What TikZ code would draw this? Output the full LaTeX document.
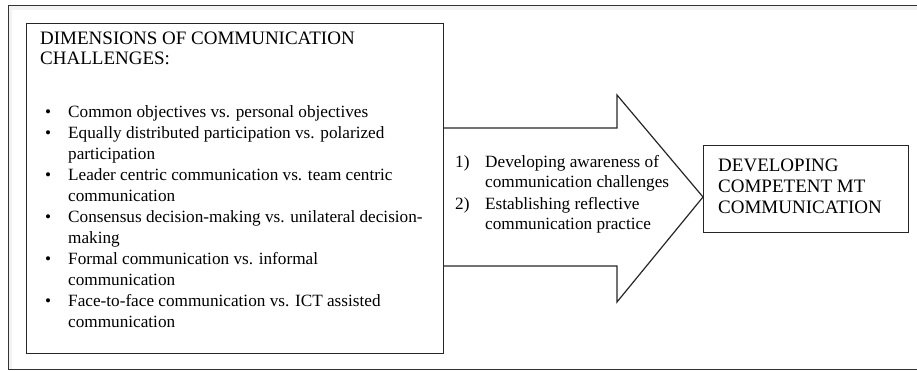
\documentclass[tikz,border=0pt]{standalone}
\usepackage{fontspec}
\setmainfont{Liberation Serif}
\begin{document}
\begin{tikzpicture}[x=1pt,y=-1pt,
  frameline/.style={draw=black!80,line width=1.3pt},
  boxline/.style={draw=black!85,line width=1.2pt},
  txt/.style={anchor=base west,inner sep=0pt,font=\fontsize{17.2}{21}\selectfont},
  captxt/.style={anchor=base west,inner sep=0pt,font=\fontsize{19}{21}\selectfont},
]
\useasboundingbox (0,0) rectangle (917,371);
% outer frame (right side cut off)
\fill[black!5] (9,6) rectangle (917,10);
\fill[black!5] (9,6) rectangle (12,369);
\draw[frameline] (917,5.5) -- (8.5,5.5) -- (8.5,369.5) -- (917,369.5);
% left box
\node[boxline,draw,minimum width=417pt,minimum height=330pt,anchor=north west,inner sep=0pt] (dims) at (26,23) {};
\node[captxt] (title) at (40,45) {\parbox[t]{400pt}{\raggedright\baselineskip=20pt DIMENSIONS OF COMMUNICATION\\CHALLENGES:}};
\node[txt] (list) at (45,118) {\parbox[t]{395pt}{\raggedright
\makebox[23pt][l]{•}Common objectives vs. personal objectives\\
\makebox[23pt][l]{•}Equally distributed participation vs. polarized\\
\hspace*{23pt}participation\\
\makebox[23pt][l]{•}Leader centric communication vs. team centric\\
\hspace*{23pt}communication\\
\makebox[23pt][l]{•}Consensus decision-making vs. unilateral decision-\\
\hspace*{23pt}making\\
\makebox[23pt][l]{•}Formal communication vs. informal\\
\hspace*{23pt}communication\\
\makebox[23pt][l]{•}Face-to-face communication vs. ICT assisted\\
\hspace*{23pt}communication}};
% block arrow
\coordinate (a1) at (dims.east |- 0,128);
\coordinate (a2) at (dims.east |- 0,266);
\draw[boxline,line join=miter] (a1) -- (617,128) -- (617,95) -- (703,197) -- (617,302) -- (617,266) -- (a2);
\node[txt] (steps) at (455,168) {\parbox[t]{250pt}{\raggedright\baselineskip=20pt
\makebox[30pt][l]{1)}Developing awareness of\\
\hspace*{30pt}communication challenges\\[2pt]
\makebox[30pt][l]{2)}Establishing reflective\\
\hspace*{30pt}communication practice}};
% result box
\node[boxline,draw,minimum width=205pt,minimum height=87pt,anchor=north west,inner sep=0pt] (result) at (703,145) {};
\node[captxt] (restext) at (718,172) {\parbox[t]{190pt}{\raggedright DEVELOPING\\COMPETENT MT\\COMMUNICATION}};
\end{tikzpicture}
\end{document}
